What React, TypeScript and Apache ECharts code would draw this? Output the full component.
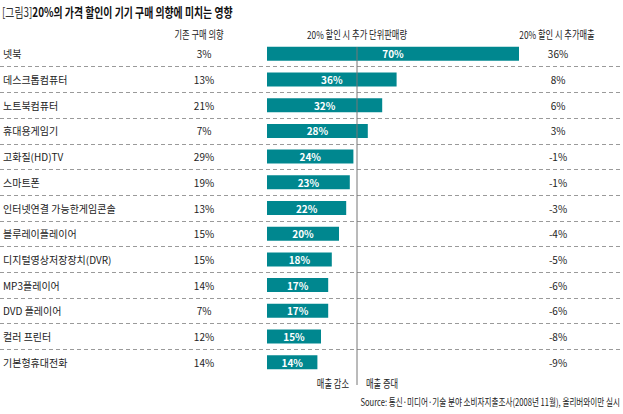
import React, { useEffect, useRef } from 'react';
import * as echarts from 'echarts';

const categories = [
  '넷북',
  '데스크톱컴퓨터',
  '노트북컴퓨터',
  '휴대용게임기',
  '고화질(HD)TV',
  '스마트폰',
  '인터넷연결 가능한게임콘솔',
  '블루레이플레이어',
  '디지털영상저장장치(DVR)',
  'MP3플레이어',
  'DVD 플레이어',
  '컬러 프린터',
  '기본형휴대전화',
];
const purchaseIntent = [3, 13, 21, 7, 29, 19, 13, 15, 15, 14, 7, 12, 14];
const unitSalesIncrease = [70, 36, 32, 28, 24, 23, 22, 20, 18, 17, 17, 15, 14];
const revenueChange = [36, 8, 6, 3, -1, -1, -3, -4, -5, -6, -6, -8, -9];
const breakEven = 25;

const titlePrefix = '[그림3]';
const titleText = '20%의 가격 할인이 기기 구매 의향에 미치는 영향';
const headerIntent = '기존 구매 의향';
const headerUnits = '20% 할인 시 추가 단위판매량';
const headerRevenue = '20% 할인 시 추가매출';
const labelDecrease = '매출 감소';
const labelIncrease = '매출 증대';
const sourceText = 'Source: 통신·미디어·기술 분야 소비자지출조사(2008년 11월), 올리버와이만 실시';

const FONT = '"Noto Sans CJK KR", "Noto Sans", sans-serif';
const TEXT = '#222';

export default function App() {
  const ref = useRef<HTMLDivElement>(null);

  useEffect(() => {
    const chart = echarts.init(ref.current!, null, { renderer: 'svg' });
    const gridTop = 41;
    const gridHeight = 334;

    const hiddenCat = {
      axisLine: { show: false },
      axisTick: { show: false },
      splitLine: { show: false },
    };

    const option: any = {
      animation: false,
      backgroundColor: '#fff',
      grid: [
        { left: 267, width: 252, top: gridTop, height: gridHeight },
        { left: 0, width: 620, top: gridTop, height: gridHeight },
      ],
      xAxis: [
        { gridIndex: 0, type: 'value', min: 0, max: 70, show: false },
        { gridIndex: 1, type: 'value', min: 0, max: 1, show: false },
      ],
      yAxis: [
        {
          gridIndex: 0,
          type: 'category',
          data: categories,
          inverse: true,
          position: 'left',
          ...hiddenCat,
          axisLabel: {
            interval: 0,
            margin: 264,
            align: 'left',
            fontSize: 10,
            color: TEXT,
            fontFamily: FONT,
          },
        },
        {
          gridIndex: 0,
          type: 'category',
          data: purchaseIntent.map((v) => v + '%'),
          inverse: true,
          position: 'left',
          ...hiddenCat,
          axisLabel: {
            interval: 0,
            margin: 63,
            align: 'center',
            fontSize: 10,
            color: TEXT,
            fontFamily: FONT,
          },
        },
        {
          gridIndex: 0,
          type: 'category',
          data: revenueChange.map((v) => v + '%'),
          inverse: true,
          position: 'right',
          ...hiddenCat,
          axisLabel: {
            interval: 0,
            margin: 39,
            align: 'center',
            fontSize: 10,
            color: TEXT,
            fontFamily: FONT,
          },
        },
        {
          gridIndex: 1,
          type: 'category',
          data: categories,
          inverse: true,
          axisLine: { show: false },
          axisTick: { show: false },
          axisLabel: { show: false },
          splitLine: {
            show: true,
            showMinLine: false,
            showMaxLine: false,
            lineStyle: { color: '#9a9a9a', width: 1, type: [4, 3] },
          },
        },
      ],
      series: [
        {
          type: 'bar',
          xAxisIndex: 0,
          yAxisIndex: 0,
          data: unitSalesIncrease,
          barWidth: 14,
          itemStyle: { color: '#00878f' },
          label: {
            show: true,
            position: 'inside',
            color: '#fff',
            fontSize: 10,
            fontWeight: 'bold',
            fontFamily: FONT,
            formatter: '{c}%',
          },
        },
      ],
    };
    chart.setOption(option);

    const lineX = chart.convertToPixel({ xAxisIndex: 0 }, breakEven) as number;

    const ctext = (
      text: string,
      x: number,
      y: number,
      align: string,
      fontSize: number,
      scaleX: number,
      extra: any = {}
    ) => ({
      type: 'text',
      x,
      y,
      scaleX,
      z: 10,
      style: {
        text,
        fill: TEXT,
        fontSize,
        fontFamily: FONT,
        align,
        verticalAlign: 'middle',
        ...extra,
      },
    });

    chart.setOption({
      graphic: [
        {
          type: 'line',
          z: 100,
          shape: { x1: lineX, y1: 47, x2: lineX, y2: 385 },
          style: { stroke: '#777', lineWidth: 1 },
        },
        {
          type: 'text',
          x: 2,
          y: 11,
          scaleX: 0.76,
          style: {
            text: `{a|${titlePrefix}}{b|${titleText}}`,
            verticalAlign: 'middle',
            align: 'left',
            rich: {
              a: { fontSize: 13, fontFamily: FONT, fill: '#333', fontWeight: 'normal' },
              b: { fontSize: 13, fontFamily: FONT, fill: '#111', fontWeight: 'bold' },
            },
          },
        },
        ctext(headerIntent, 199, 34, 'center', 11, 0.75),
        ctext(headerUnits, lineX, 34, 'center', 11, 0.75),
        ctext(headerRevenue, 557, 34, 'center', 11, 0.75),
        ctext(labelDecrease, lineX - 8, 383, 'right', 11, 0.75),
        ctext(labelIncrease, lineX + 9, 383, 'left', 11, 0.75),
        ctext(sourceText, 620, 402, 'right', 10, 0.76),
      ],
    });

    return () => chart.dispose();
  }, []);

  return (
    <div
      ref={ref}
      style={{ position: 'fixed', left: 0, top: 0, width: 623, height: 414, background: '#fff' }}
    />
  );
}
